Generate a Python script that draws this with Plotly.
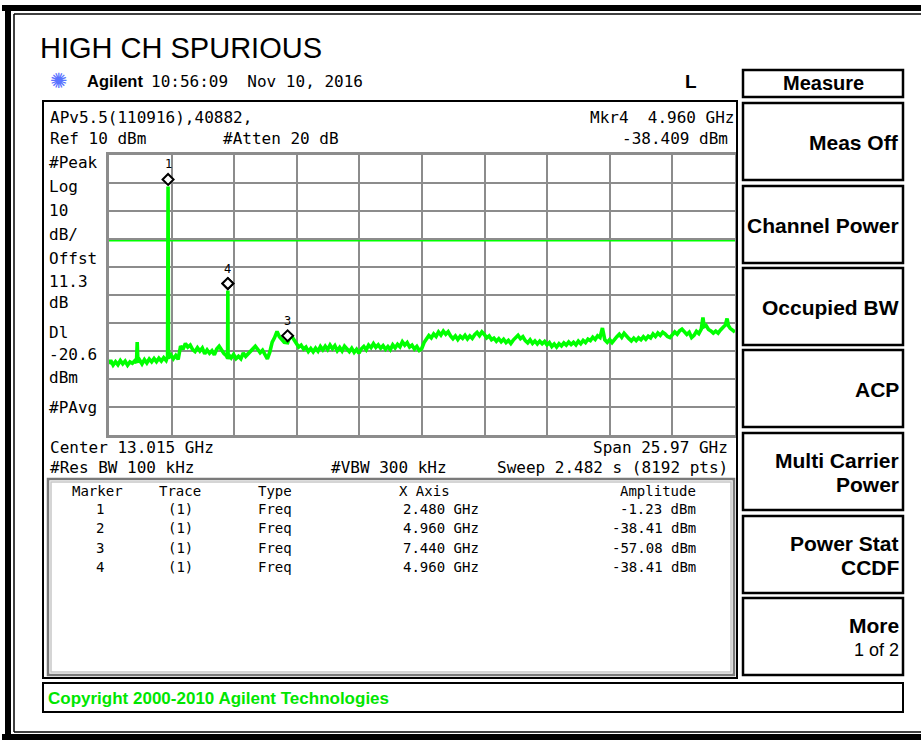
import plotly.graph_objects as go

W, H = 921, 740

# ---------------- data ----------------
start_ghz = 0.03
stop_ghz = 26.0
center_ghz = 13.015
span_ghz = 25.97
ref_level_dbm = 10
db_per_div = 10
n_div = 10
display_line_dbm = -20.6

trace_freq_ghz = [
    0.03, 0.1, 0.2, 0.3, 0.4, 0.5, 0.6, 0.7, 0.8, 0.9,
    1.0, 1.1, 1.17, 1.2, 1.23, 1.3, 1.4, 1.5, 1.6, 1.7, 1.8, 1.9,
    2.0, 2.1, 2.2, 2.3, 2.4, 2.46, 2.48, 2.50, 2.6, 2.7, 2.8, 2.9,
    3.0, 3.1, 3.2, 3.3, 3.4, 3.5, 3.6, 3.7, 3.8, 3.9,
    4.0, 4.1, 4.2, 4.3, 4.4, 4.5, 4.6, 4.7, 4.8, 4.9, 4.95, 4.96, 4.97,
    5.0, 5.1, 5.2, 5.3, 5.4, 5.5, 5.6, 5.7, 5.8, 5.9,
    6.0, 6.1, 6.2, 6.3, 6.4, 6.5, 6.6, 6.7, 6.8, 6.9,
    7.0, 7.1, 7.2, 7.3, 7.44, 7.5, 7.6, 7.7, 7.8, 7.9,
    8.0, 8.1, 8.2, 8.3, 8.4, 8.5, 8.6, 8.7, 8.8, 8.9,
    9.0, 9.1, 9.2, 9.3, 9.4, 9.5, 9.6, 9.7, 9.8, 9.9,
    10.0, 10.1, 10.2, 10.3, 10.4, 10.5, 10.6, 10.7, 10.8, 10.9,
    11.0, 11.1, 11.2, 11.3, 11.4, 11.5, 11.6, 11.7, 11.8, 11.9,
    12.0, 12.1, 12.2, 12.3, 12.4, 12.5, 12.6, 12.7, 12.8, 12.9,
    13.0, 13.1, 13.2, 13.3, 13.4, 13.5, 13.6, 13.7, 13.8, 13.9,
    14.0, 14.1, 14.2, 14.3, 14.4, 14.5, 14.6, 14.7, 14.8, 14.9,
    15.0, 15.1, 15.2, 15.3, 15.4, 15.5, 15.6, 15.7, 15.8, 15.9,
    16.0, 16.1, 16.2, 16.3, 16.4, 16.5, 16.6, 16.7, 16.8, 16.9,
    17.0, 17.1, 17.2, 17.3, 17.4, 17.5, 17.6, 17.7, 17.8, 17.9,
    18.0, 18.1, 18.2, 18.3, 18.4, 18.5, 18.6, 18.7, 18.8, 18.9,
    19.0, 19.1, 19.2, 19.3, 19.4, 19.5, 19.6, 19.7, 19.8, 19.9,
    20.0, 20.1, 20.2, 20.3, 20.4, 20.5, 20.55, 20.6, 20.7, 20.8, 20.9,
    21.0, 21.1, 21.2, 21.3, 21.4, 21.5, 21.6, 21.7, 21.8, 21.9,
    22.0, 22.1, 22.2, 22.3, 22.4, 22.5, 22.6, 22.7, 22.8, 22.9,
    23.0, 23.1, 23.2, 23.3, 23.4, 23.5, 23.6, 23.7, 23.8, 23.9,
    24.0, 24.1, 24.2, 24.3, 24.4, 24.5, 24.6, 24.67, 24.72, 24.8, 24.9,
    25.0, 25.1, 25.2, 25.3, 25.4, 25.5, 25.6, 25.67, 25.73, 25.8, 25.9, 26.0,
]
trace_amp_dbm = [
    -64.6, -63.3, -65.0, -63.8, -64.9, -63.4, -64.6, -63.6, -65.1, -63.9,
    -64.4, -63.5, -64.3, -56.8, -64.0, -63.2, -64.6, -63.1, -64.3, -62.9, -63.9, -62.7,
    -63.8, -62.6, -63.6, -62.4, -63.4, -62.0, -1.23, -62.6, -61.4, -62.8, -61.6, -63.0,
    -58.2, -59.4, -57.3, -58.6, -57.9, -59.5, -60.2, -58.8, -60.0, -58.9,
    -61.0, -59.6, -60.8, -59.9, -61.4, -59.3, -58.3, -59.7, -60.9, -61.7, -62.6, -38.41, -62.9,
    -61.4, -62.5, -61.2, -62.7, -61.9, -62.8, -60.7, -61.9, -60.9, -59.9,
    -59.0, -58.3, -59.4, -60.6, -59.7, -61.6, -62.8, -60.4, -56.8, -55.2,
    -53.0, -54.9, -55.8, -56.9, -57.08, -55.6, -54.6, -56.0, -57.2, -58.6,
    -57.9, -59.3, -58.6, -60.2, -59.1, -60.3, -59.0, -60.1, -58.4, -59.6,
    -58.3, -59.5, -57.9, -59.2, -58.1, -59.9, -58.7, -60.0, -58.3, -59.4,
    -60.2, -59.0, -60.5, -59.4, -60.8, -59.2, -58.4, -59.6, -57.9, -58.8,
    -57.4, -58.7, -57.8, -59.0, -58.1, -59.4, -58.4, -59.5, -57.8, -58.9,
    -57.6, -58.5, -56.7, -57.9, -57.0, -58.6, -57.9, -59.3, -58.4, -59.8,
    -59.2, -57.0, -55.6, -54.5, -55.3, -53.9, -54.8, -53.2, -54.3, -52.9,
    -54.0, -53.1, -54.6, -55.6, -54.6, -55.9, -54.7, -55.5, -54.4, -55.7,
    -54.6, -55.5, -54.2, -53.4, -54.5, -53.2, -54.1, -55.3, -54.6, -56.0,
    -55.4, -56.5, -55.6, -56.7, -55.8, -57.0, -56.2, -57.3, -56.1, -55.0,
    -54.4, -55.6, -54.9, -56.3, -57.1, -56.0, -57.3, -56.4, -57.5, -56.5,
    -57.4, -56.6, -57.8, -57.0, -58.4, -57.5, -58.6, -57.4, -58.2, -57.1,
    -57.9, -56.8, -57.7, -56.9, -57.8, -56.5, -57.4, -56.2, -57.0, -55.8,
    -56.3, -55.1, -55.9, -54.6, -55.2, -51.8, -54.9, -56.0, -56.9, -55.9, -57.0,
    -55.8, -54.9, -54.0, -55.1, -53.7, -54.9, -55.6, -56.4, -55.4, -56.3,
    -55.3, -56.0, -54.9, -55.8, -54.7, -55.3, -53.9, -54.8, -53.6, -54.4,
    -53.3, -53.9, -54.8, -55.2, -54.1, -53.2, -54.0, -52.8, -52.2, -53.3,
    -54.1, -53.3, -55.2, -54.4, -53.0, -53.8, -52.2, -48.0, -51.3, -50.9, -52.3,
    -52.8, -53.6, -52.9, -53.6, -52.5, -51.6, -50.7, -48.4, -51.0, -51.9, -52.6, -53.2,
]

marker_ids = ["1", "2", "3", "4"]
marker_traces = ["(1)", "(1)", "(1)", "(1)"]
marker_types = ["Freq", "Freq", "Freq", "Freq"]
marker_freq_ghz = [2.480, 4.960, 7.440, 4.960]
marker_amp_dbm = [-1.23, -38.41, -57.08, -38.41]
shown_marker_labels = ["1", "3", "4"]

active_marker = "4"
active_marker_readout_dbm = -38.409

soft_keys = [
    ["Meas Off"],
    ["Channel Power"],
    ["Occupied BW"],
    ["ACP"],
    ["Multi Carrier", "Power"],
    ["Power Stat", "CCDF"],
    ["More", "1 of 2"],
]

# ---------------- helpers ----------------
def px(x):
    return x / W


def py(y):
    return 1 - y / H


SCREEN = "DejaVu Sans Mono, monospace"
SANS = "Liberation Sans, Arial, sans-serif"
MONO = "DejaVu Sans Mono, monospace"
GREEN = "#00ff00"
GRID = "#8c8c8c"

shapes = []
annotations = []


def rect(x0, y0, x1, y1, color="black", width=2, fill=None, layer="above"):
    shapes.append(dict(type="rect", xref="paper", yref="paper",
                       x0=px(x0), x1=px(x1), y0=py(y1), y1=py(y0),
                       line=dict(color=color, width=width),
                       fillcolor=fill if fill else "rgba(0,0,0,0)", layer=layer))


def seg(x0, y0, x1, y1, color="black", width=2):
    shapes.append(dict(type="line", xref="paper", yref="paper",
                       x0=px(x0), x1=px(x1), y0=py(y0), y1=py(y1),
                       line=dict(color=color, width=width)))


def text(x, y, s, size=16, family=SCREEN, color="black", anchor="left", bold=False):
    if bold:
        s = "<b>" + s + "</b>"
    annotations.append(dict(xref="paper", yref="paper", x=px(x), y=py(y), text=s,
                            showarrow=False, xanchor=anchor, yanchor="middle",
                            font=dict(family=family, size=size, color=color),
                            borderpad=0))


# ---------------- figure ----------------
fig = go.Figure()

fig.add_trace(go.Scatter(
    x=trace_freq_ghz, y=trace_amp_dbm, mode="lines",
    line=dict(color=GREEN, width=3.6), hoverinfo="skip", showlegend=False))

fig.add_trace(go.Scatter(
    x=[start_ghz, stop_ghz], y=[display_line_dbm, display_line_dbm], mode="lines",
    line=dict(color=GREEN, width=1.5), hoverinfo="skip", showlegend=False))

# marker diamonds (drawn just above the marked point) and numbers
for mid, f, a in zip(marker_ids, marker_freq_ghz, marker_amp_dbm):
    shapes.append(dict(type="path", xref="x", yref="y", xsizemode="pixel", ysizemode="pixel",
                       xanchor=f, yanchor=a,
                       path="M 0 1.5 L 5.5 7 L 0 12.5 L -5.5 7 Z",
                       line=dict(color="black", width=2), fillcolor="white", layer="above"))
for mid, f, a in zip(marker_ids, marker_freq_ghz, marker_amp_dbm):
    if mid in shown_marker_labels:
        annotations.append(dict(xref="x", yref="y", x=f, y=a, yshift=22, text=mid,
                                showarrow=False, xanchor="center", yanchor="middle",
                                font=dict(family=MONO, size=12, color="black")))

# ---- frame of the whole screenshot (open on the right) ----
seg(2, 8, 921, 8, width=6)
seg(8, 5, 8, 740, width=6)
seg(2, 737, 921, 737, width=6)
seg(14, 14, 921, 14, width=1.5)
seg(14, 14, 14, 732, width=1.5)
seg(14, 732, 921, 732, width=1.5)

# title & header
text(39, 48, "HIGH CH SPURIOUS", size=29, family=SANS)
text(59, 81, "✺", size=21, family="DejaVu Sans", color="#5a73ff", anchor="center")
text(86, 81, "Agilent", size=16.5, family=SANS, bold=True)
text(150, 81, "10:56:09&nbsp;&nbsp;Nov 10, 2016", size=16)
text(691, 82, "L", size=19, family=SANS, bold=True, anchor="center")

# ---- main panel ----
rect(43, 101, 737, 678, color="black", width=2)
text(49, 117, "APv5.5(110916),40882,", size=16)
text(736, 117, f"Mkr{active_marker}&nbsp;&nbsp;{marker_freq_ghz[3]:.3f} GHz", size=16, anchor="right")
text(49, 139, f"Ref {ref_level_dbm} dBm", size=16)
text(222, 139, "#Atten 20 dB", size=16)
text(729, 139, f"{active_marker_readout_dbm:.3f} dBm", size=16, anchor="right")

left_labels = [("#Peak", 163), ("Log", 187), (f"{db_per_div}", 211), ("dB/", 234), ("Offst", 258),
               ("11.3", 281), ("dB", 303), ("Dl", 332), (f"{display_line_dbm}", 354), ("dBm", 377),
               ("#PAvg", 407)]
for s, yy in left_labels:
    text(48, yy, s, size=16)

text(49, 447, f"Center {center_ghz:.3f} GHz", size=16)
text(729, 447, f"Span {span_ghz:.2f} GHz", size=16, anchor="right")
text(49, 467, "#Res BW 100 kHz", size=16)
text(330, 467, "#VBW 300 kHz", size=16)
text(729, 467, "Sweep 2.482 s (8192 pts)", size=16, anchor="right")

# marker table
rect(48, 479, 734, 675, color="#7a7a7a", width=2.5)
rect(51, 482, 731, 672, color="#c8c8c8", width=1.5)
text(97, 491, "Marker", size=14, family=MONO, anchor="center")
text(180, 491, "Trace", size=14, family=MONO, anchor="center")
text(257, 491, "Type", size=14, family=MONO)
text(398, 491, "X Axis", size=14, family=MONO)
text(697, 491, "Amplitude", size=14, family=MONO, anchor="right")
row_y = [509, 528, 548, 567]
for i, (mid, tr, ty, f, a) in enumerate(zip(marker_ids, marker_traces, marker_types,
                                             marker_freq_ghz, marker_amp_dbm)):
    yy = row_y[i]
    text(100, yy, mid, size=14, family=MONO, anchor="center")
    text(180, yy, tr, size=14, family=MONO, anchor="center")
    text(257, yy, ty, size=14, family=MONO)
    text(480, yy, f"{f:.3f} GHz", size=14, family=MONO, anchor="right")
    text(697, yy, f"{a:.2f} dBm", size=14, family=MONO, anchor="right")

# copyright bar
rect(43, 683, 903, 712, color="black", width=2)
text(47, 698, "Copyright 2000-2010 Agilent Technologies", size=17, family=SANS, bold=True, color="#00e600")

# ---- soft keys ----
rect(743, 70, 903, 97, color="black", width=2.5)
text(823, 83, "Measure", size=20, family=SANS, bold=True, anchor="center")
key_tops = [103, 186, 268, 350, 433, 516, 598]
key_h = 77
for lines, top in zip(soft_keys, key_tops):
    rect(743, top, 903, top + key_h, color="black", width=2.5)
    mid = top + key_h / 2 + 1
    if len(lines) == 1:
        text(900, mid, lines[0], size=21, family=SANS, bold=True, anchor="right")
    elif lines[0] == "More":
        text(900, mid - 12, lines[0], size=21, family=SANS, bold=True, anchor="right")
        text(900, mid + 12, lines[1], size=18, family=SANS, anchor="right")
    else:
        text(900, mid - 12, lines[0], size=21, family=SANS, bold=True, anchor="right")
        text(900, mid + 12, lines[1], size=21, family=SANS, bold=True, anchor="right")

# ---- axes (graticule) ----
x_ticks = [start_ghz + k * span_ghz / n_div for k in range(n_div + 1)]
fig.update_xaxes(range=[start_ghz, stop_ghz], domain=[px(109), px(735)],
                 tickvals=x_ticks, showticklabels=False, ticks="",
                 showgrid=True, gridcolor=GRID, gridwidth=2, zeroline=False,
                 showline=True, mirror=True, linecolor=GRID, linewidth=3, fixedrange=True)
fig.update_yaxes(range=[ref_level_dbm - n_div * db_per_div, ref_level_dbm],
                 domain=[py(435), py(155)], dtick=db_per_div, showticklabels=False, ticks="",
                 showgrid=True, gridcolor=GRID, gridwidth=2, zeroline=False,
                 showline=True, mirror=True, linecolor=GRID, linewidth=3, fixedrange=True)

fig.update_layout(width=W, height=H, margin=dict(l=0, r=0, t=0, b=0),
                  paper_bgcolor="white", plot_bgcolor="white",
                  shapes=shapes, annotations=annotations, showlegend=False)

fig.write_html("out.html", config={"displayModeBar": False},
               post_script="document.body.style.margin='0';document.body.style.overflow='hidden';")
